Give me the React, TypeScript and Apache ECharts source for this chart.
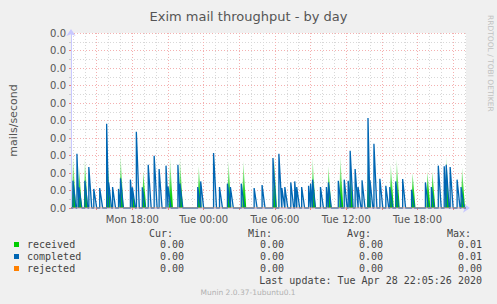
import React, { useEffect, useRef } from "react";
import * as echarts from "echarts";

// Time base: slot i = Mon 12:50 + 5 min * i
const START_MINUTE = 770;
const SLOT_MINUTES = 5;
const SLOT_COUNT = 400;

const chartTitle = "Exim mail throughput - by day";
const yAxisName = "mails/second";
const sideNote = "RRDTOOL / TOBI OETIKER";
const footer = "Munin 2.0.37-1ubuntu0.1";
const lastUpdate = "Last update: Tue Apr 28 22:05:26 2020";

// completed (blue) spikes: slot index and peak value
const completedSlots = [
  2, 6, 8, 14, 18, 23, 29, 36, 38, 42, 48, 50, 60, 62, 66, 72, 78, 84, 89, 96, 98,
  108, 110, 128, 131, 144, 150, 158, 161, 172, 185, 193, 204, 210, 213, 216, 222,
  226, 228, 233, 240, 242, 244, 252, 258, 260, 270, 276, 280, 282, 287, 290, 294,
  300, 302, 306, 312, 318, 322, 328, 335, 344, 358, 364, 371, 377, 379, 383, 390, 394,
];
const completedValues = [
  0.00156, 0.0031, 0.00118, 0.00156, 0.00234, 0.00109, 0.00114, 0.00482, 0.00146,
  0.0012, 0.00109, 0.0017, 0.00162, 0.00118, 0.00436, 0.00118, 0.00247, 0.00299,
  0.00223, 0.00242, 0.00123, 0.00247, 0.00139, 0.0012, 0.00152, 0.00314, 0.0012,
  0.00139, 0.0012, 0.00139, 0.00114, 0.00131, 0.00286, 0.0031, 0.00114, 0.0012,
  0.00146, 0.00152, 0.0012, 0.0012, 0.00127, 0.00139, 0.00162, 0.0012, 0.0012,
  0.00146, 0.00156, 0.00162, 0.00156, 0.00327, 0.00223, 0.0012, 0.00158, 0.00514,
  0.00158, 0.00367, 0.00167, 0.00127, 0.0012, 0.00152, 0.00166, 0.00105, 0.00146,
  0.0012, 0.00242, 0.00238, 0.00247, 0.00234, 0.00162, 0.0012,
];

// received (green) spikes
const receivedSlots = [
  2, 8, 14, 37, 50, 62, 73, 100, 110, 129, 159, 174, 205, 244, 260, 272, 282, 300,
  323, 329, 345, 360, 365, 379, 395,
];
const receivedValues = [
  0.003, 0.0024, 0.0028, 0.0028, 0.0031, 0.0011, 0.0021, 0.0029, 0.0029, 0.0024,
  0.0027, 0.0027, 0.003, 0.0029, 0.0024, 0.003, 0.0024, 0.0028, 0.0025, 0.0028,
  0.002, 0.0021, 0.0021, 0.003, 0.0023,
];

// rejected: flat zero
const rejectedSlots = [0, 399];
const rejectedValues = [0, 0];

const seriesNames = ["received", "completed", "rejected"];
const seriesColors = ["#00cc00", "#0066b3", "#ff8000"];
const statHeaders = ["Cur:", "Min:", "Avg:", "Max:"];
const statRows = [
  ["0.00", "0.00", "0.00", "0.01"],
  ["0.00", "0.00", "0.00", "0.01"],
  ["0.00", "0.00", "0.00", "0.00"],
];

const Y_MAX = 0.01;
const Y_STEP = 0.001;

const slotMinute = (i: number) => START_MINUTE + i * SLOT_MINUTES;
const slotLabels = Array.from({ length: SLOT_COUNT }, (_, i) => {
  const m = slotMinute(i);
  const day = m < 1440 ? "Mon" : "Tue";
  const mm = m % 1440;
  return `${day} ${String(Math.floor(mm / 60)).padStart(2, "0")}:${String(mm % 60).padStart(2, "0")}`;
});

function spikePoints(slots: number[], values: number[], rise: number, fall: number) {
  const pts: number[][] = [[0, 0]];
  slots.forEach((s, i) => {
    const next = i + 1 < slots.length ? slots[i + 1] : SLOT_COUNT - 1;
    pts.push([s - rise, 0], [s, values[i]], [Math.min(s + fall, next - rise), 0]);
  });
  pts.push([SLOT_COUNT - 1, 0]);
  return pts;
}

const isMajor = (i: number) => slotMinute(i) % 180 === 0;
const isMinor = (i: number) => slotMinute(i) % 60 === 0 && slotMinute(i) % 180 !== 0;
const isLabel = (i: number) => slotMinute(i) % 360 === 0;

const MONO = "'DejaVu Sans Mono', monospace";
const SANS = "'DejaVu Sans', sans-serif";

export default function App() {
  const ref = useRef<HTMLDivElement>(null);
  useEffect(() => {
    if (!ref.current) return;
    const chart = echarts.init(ref.current, undefined, { renderer: "svg" });

    const graphic: any[] = [];
    const colX = [149, 248, 347, 447];
    const valRight = [184, 284, 383, 482];
    statHeaders.forEach((h, k) =>
      graphic.push({
        type: "text", x: colX[k], y: 233,
        style: { text: h, font: `10px ${MONO}`, fill: "#444", textVerticalAlign: "middle" },
      })
    );
    const rowY = [244.5, 256.5, 268.5];
    seriesNames.forEach((n, r) => {
      graphic.push({ type: "rect", shape: { x: 14, y: rowY[r] - 2.5, width: 5, height: 5 }, style: { fill: seriesColors[r] } });
      graphic.push({
        type: "text", x: 27, y: rowY[r],
        style: { text: n, font: `10px ${MONO}`, fill: "#444", textVerticalAlign: "middle" },
      });
      statRows[r].forEach((v, k) =>
        graphic.push({
          type: "text", x: valRight[k], y: rowY[r],
          style: { text: v, font: `10px ${MONO}`, fill: "#444", textAlign: "right", textVerticalAlign: "middle" },
        })
      );
    });
    graphic.push({
      type: "text", x: 482, y: 280.5,
      style: { text: lastUpdate, font: `10px ${MONO}`, fill: "#444", textAlign: "right", textVerticalAlign: "middle" },
    });
    graphic.push({
      type: "text", x: 248, y: 292,
      style: { text: footer, font: `7.5px ${SANS}`, fill: "#b0b0b0", textAlign: "center", textVerticalAlign: "middle" },
    });
    graphic.push({
      type: "text", x: 490, y: 15, rotation: -Math.PI / 2,
      style: { text: sideNote, font: `7.5px ${SANS}`, fill: "#c0c0c0", textAlign: "left", textVerticalAlign: "middle" },
    });

    chart.setOption({
      animation: false,
      backgroundColor: "#f0f0f0",
      title: {
        text: chartTitle, left: "center", top: 5,
        textStyle: { fontSize: 13, fontWeight: "normal", color: "#555", fontFamily: SANS },
      },
      grid: { left: 66, top: 33, width: 400, height: 175, show: true, backgroundColor: "#ffffff", borderWidth: 0 },
      xAxis: [
        {
          type: "category", data: slotLabels, boundaryGap: false, position: "bottom",
          axisLine: { show: true, lineStyle: { color: "#c8c8ff" }, symbol: ["none", "arrow"], symbolSize: [7, 7], symbolOffset: [0, 4] },
          axisTick: { show: true, interval: (i: number) => isMajor(i), length: 2, lineStyle: { color: "#f08080" } },
          axisLabel: { interval: (i: number) => isLabel(i), color: "#555", fontSize: 10, fontFamily: SANS, margin: 6 },
          splitLine: { show: true, interval: (i: number) => isMajor(i), lineStyle: { color: "#f4b0b0", type: [1, 2] } },
        },
        {
          type: "category", data: slotLabels, boundaryGap: false, position: "bottom",
          axisLine: { show: false }, axisTick: { show: false }, axisLabel: { show: false },
          splitLine: { show: true, interval: (i: number) => isMinor(i), lineStyle: { color: "#d8d8d8", type: [1, 2] } },
        },
        { type: "value", min: 0, max: SLOT_COUNT - 1, show: false },
      ],
      yAxis: {
        type: "value", min: 0, max: Y_MAX, interval: Y_STEP,
        name: yAxisName, nameLocation: "middle", nameGap: 52,
        nameTextStyle: { color: "#555", fontSize: 11, fontFamily: SANS },
        axisLine: { show: true, lineStyle: { color: "#c8c8ff" }, symbol: ["none", "arrow"], symbolSize: [7, 7], symbolOffset: [0, 4] },
        axisTick: { show: true, length: 2, lineStyle: { color: "#f08080" } },
        minorTick: { show: true, splitNumber: 2, length: 2, lineStyle: { color: "#cccccc" } },
        axisLabel: { formatter: (v: number) => v.toFixed(1), color: "#555", fontSize: 10, fontFamily: SANS, margin: 5 },
        splitLine: { show: true, lineStyle: { color: "#f4b0b0", type: [1, 2] } },
        minorSplitLine: { show: true, lineStyle: { color: "#d8d8d8", type: [1, 2] } },
      },
      series: [
        {
          name: seriesNames[0], type: "line", xAxisIndex: 2, symbol: "none",
          data: spikePoints(receivedSlots, receivedValues, 1, 3),
          lineStyle: { width: 0 },
          areaStyle: {
            opacity: 1,
            color: new echarts.graphic.LinearGradient(0, 0, 0, 1, [
              { offset: 0, color: "rgba(0,204,0,0.12)" },
              { offset: 0.45, color: "rgba(0,204,0,0.55)" },
              { offset: 0.8, color: "rgba(0,204,0,0.95)" },
              { offset: 1, color: "rgba(0,204,0,1)" },
            ]),
          },
          z: 2,
        },
        {
          name: seriesNames[1], type: "line", xAxisIndex: 2, symbol: "none",
          data: spikePoints(completedSlots, completedValues, 0, 3),
          lineStyle: { width: 1.3, color: seriesColors[1] },
          areaStyle: {
            opacity: 1,
            color: new echarts.graphic.LinearGradient(0, 0, 0, 1, [
              { offset: 0, color: "rgba(0,102,179,0.35)" },
              { offset: 1, color: "rgba(0,102,179,0.12)" },
            ]),
          },
          z: 3,
        },
        {
          name: seriesNames[2], type: "line", xAxisIndex: 2, symbol: "none",
          data: rejectedSlots.map((s, i) => [s, rejectedValues[i]]),
          lineStyle: { width: 1, color: "#f0a070" },
          z: 4,
        },
      ],
      graphic,
    });
    return () => chart.dispose();
  }, []);
  return <div ref={ref} style={{ position: "fixed", left: 0, top: 0, width: 497, height: 304 }} />;
}
